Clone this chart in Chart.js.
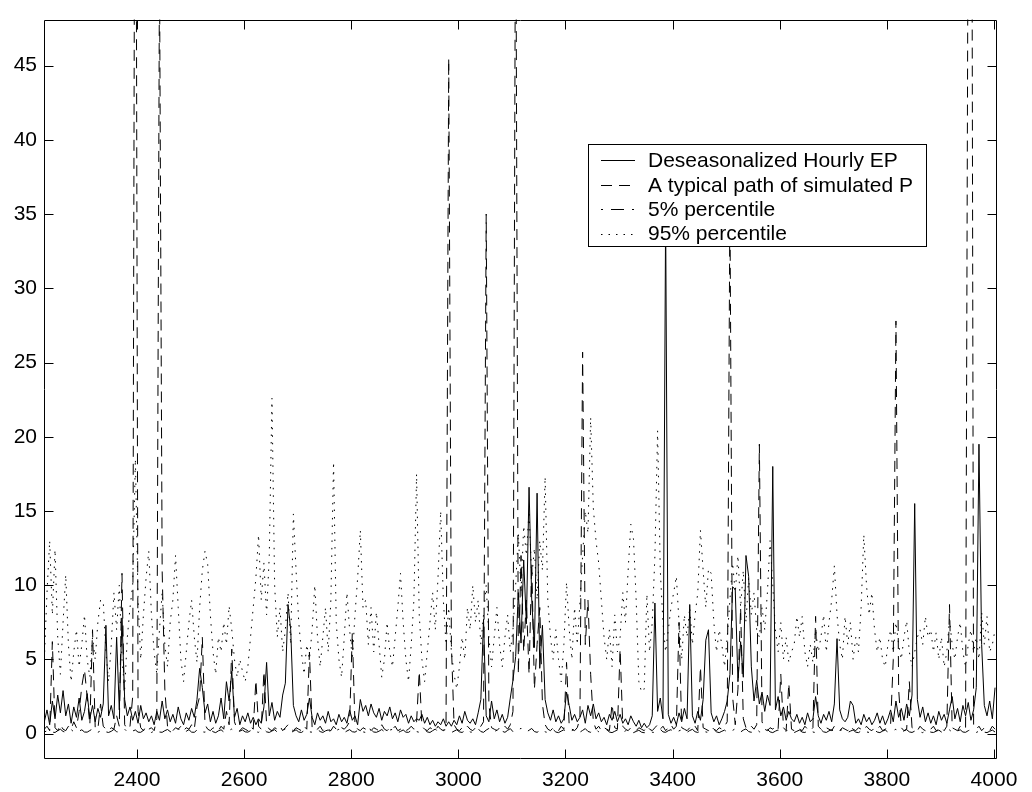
<!DOCTYPE html>
<html>
<head>
<meta charset="utf-8">
<script src="https://cdn.jsdelivr.net/npm/chart.js@4/dist/chart.umd.min.js"></script>
<style>
html,body{margin:0;padding:0;background:#fff;}
#c{display:block;}
</style>
</head>
<body>
<canvas id="c" width="1032" height="792"></canvas>
<script>
// ---------------- data (hourly index, sampled every 5 hours) ----------------
const hourStart = 2227;
const hourStep = 5;

const seriesLabels = [
  'Deseasonalized Hourly EP',
  'A typical path of simulated P',
  '5% percentile',
  '95% percentile'
];

const epValues = [
  0.8,1.6,0.6,2.2,1.0,2.6,1.4,2.9,1.2,2.0,0.7,1.8,1.1,2.4,0.9,1.5,2.7,1.0,1.9,0.8,
  1.7,1.1,2.0,7.3,1.2,1.9,1.0,6.5,1.6,7.8,2.3,1.2,1.8,0.9,1.5,0.7,1.9,1.0,1.4,0.8,
  1.2,0.6,1.5,0.9,2.2,1.0,1.6,0.8,1.3,0.7,1.8,1.0,0.6,1.4,0.9,1.7,1.1,2.3,4.4,3.1,
  1.4,2.0,0.8,1.5,0.7,1.2,2.4,1.0,3.5,2.2,4.2,1.1,1.7,0.6,1.2,0.8,1.4,0.7,1.1,0.6,
  1.0,0.7,1.8,4.8,1.2,2.1,0.9,1.5,1.1,2.6,3.4,8.7,7.0,1.9,1.2,0.8,1.6,0.9,1.3,2.4,
  1.1,0.6,1.4,0.9,1.2,0.7,1.5,0.8,1.0,0.6,1.3,0.8,1.1,0.7,1.6,0.9,1.2,0.6,2.3,1.5,
  1.9,1.2,2.0,1.4,1.1,1.7,0.9,1.5,1.2,1.8,1.0,1.4,0.8,1.6,1.1,1.3,0.7,1.2,0.8,1.0,
  0.9,1.3,0.7,1.1,0.6,0.9,0.5,0.8,0.6,1.0,0.5,0.8,0.5,0.9,0.6,1.2,0.7,1.5,0.9,0.7,
  1.0,0.6,1.4,2.3,7.7,1.2,0.8,2.2,1.0,1.6,0.8,1.3,0.7,1.1,2.4,3.6,5.2,9.5,6.1,11.7,
  7.4,16.6,9.0,5.8,16.2,4.4,7.3,2.3,1.4,0.9,1.6,0.8,1.2,0.7,1.0,2.8,1.9,0.9,1.3,0.8,
  1.1,1.6,0.7,1.9,1.2,2.0,1.0,1.4,0.8,1.1,0.6,1.3,0.9,1.5,0.8,1.3,0.7,1.0,0.6,1.2,
  0.8,0.5,0.9,0.4,0.7,0.4,0.6,1.2,8.8,1.5,2.4,1.0,35,1.3,0.7,1.1,0.6,1.4,0.8,1.7,
  1.0,8.7,1.2,0.7,1.5,0.9,2.3,6.3,7.0,1.4,0.8,1.2,0.6,1.0,1.5,2.2,4.0,9.9,9.7,3.5,
  6.2,3.8,12.0,10.6,4.5,2.2,3.6,2.0,2.8,1.5,2.6,1.9,18.0,1.6,2.5,1.2,1.8,0.9,1.5,1.0,
  0.8,1.3,0.7,1.1,0.6,1.4,0.8,1.0,2.5,1.2,0.7,1.3,0.9,1.5,0.8,2.0,6.4,1.6,1.0,0.8,
  1.1,2.2,1.9,0.7,1.0,0.6,1.3,0.8,1.1,0.6,0.9,1.4,0.7,1.2,0.6,1.0,1.6,0.8,2.2,1.1,
  1.7,0.9,2.0,1.2,2.6,15.5,2.3,1.1,1.8,0.8,1.4,0.7,1.2,0.6,1.5,0.9,1.3,0.7,1.6,2.5,
  1.0,1.7,0.8,1.9,1.2,2.1,0.9,1.6,3.1,19.5,6.0,1.9,1.2,2.2,1.0,3.1
];

const simValues = [
  0.3,0.5,0.2,6.2,0.4,0.2,0.6,0.3,0.2,0.5,0.3,0.8,0.4,1.5,3.2,4.3,2.5,0.6,7.0,0.4,
  0.3,2.0,0.5,0.3,0.2,0.4,0.3,1.2,0.5,10.8,0.6,0.3,0.5,2.5,80,1.5,0.4,0.2,0.5,0.3,
  0.4,0.2,1.0,52,11.0,3.0,0.5,0.3,0.2,0.4,0.3,0.5,0.2,0.4,0.3,0.6,0.3,1.8,2.5,6.5,
  0.6,0.3,0.2,0.4,0.3,0.2,0.5,0.3,1.5,0.6,5.7,0.8,0.3,0.2,0.4,0.3,0.2,0.5,0.3,3.6,
  0.5,0.3,4.2,0.6,0.3,0.2,0.4,0.3,0.5,0.2,0.4,0.6,0.3,0.2,0.4,0.3,0.2,0.5,0.3,5.5,
  0.4,0.2,0.3,0.5,0.2,0.4,0.3,0.2,0.5,0.3,0.2,0.4,0.3,0.5,0.8,6.8,0.6,0.3,0.2,0.4,
  0.3,0.5,0.2,0.4,0.3,0.2,0.6,0.3,0.2,0.4,0.3,0.5,0.2,0.3,0.4,0.2,0.3,0.5,0.3,0.8,
  4.2,0.5,0.3,0.2,0.4,0.3,0.2,0.5,0.3,0.2,0.5,45.5,6.0,0.6,0.3,0.2,0.4,0.3,0.5,0.3,
  0.2,0.4,0.3,0.5,0.8,35.0,2.0,0.4,0.3,0.2,0.4,0.3,0.5,0.3,0.6,1.5,60,4.0,12.0,5.5,
  9.0,4.0,11.5,3.0,6.0,8.5,2.0,0.6,0.3,0.2,0.4,0.3,0.2,0.5,0.3,4.8,0.5,0.3,0.2,0.4,
  1.0,25.7,6.0,9.0,4.0,0.8,0.3,0.5,0.2,0.4,0.3,0.2,2.0,0.4,0.3,5.7,0.5,0.3,0.2,0.4,
  0.3,0.2,0.4,0.3,0.2,0.5,0.3,0.2,0.4,0.6,0.3,0.5,0.2,0.4,0.6,0.3,0.5,7.5,0.4,0.3,
  0.2,0.4,0.3,0.5,0.2,4.5,0.4,0.3,0.2,0.5,0.3,0.2,0.4,0.3,0.5,0.8,36,2.5,0.6,3.0,
  8.5,1.0,0.4,0.3,0.5,0.3,0.6,19.5,0.8,0.3,0.2,0.4,0.3,0.5,0.3,4.0,0.4,0.2,3.4,0.3,
  0.2,0.4,0.3,0.2,0.5,0.3,0.2,0.4,7.9,0.5,0.3,0.2,0.4,0.3,0.2,0.5,0.3,0.2,0.4,0.3,
  0.2,0.5,0.3,0.2,0.4,0.3,0.2,0.5,0.3,0.2,0.4,0.3,0.5,0.2,0.3,0.4,0.6,5.0,27.8,3.0,
  0.4,0.2,0.3,3.5,0.4,0.3,0.2,0.5,0.3,0.2,0.4,0.3,0.5,0.2,0.3,0.4,0.2,0.5,8.7,0.4,
  0.3,0.2,0.5,0.3,0.4,60,90,0.6,0.3,0.5,0.2,0.4,0.3,0.2,0.5,0.3
];

const p5Values = [
  0.12,0.18,0.25,0.10,0.08,0.20,0.30,0.15,0.09,0.22,0.28,0.12,0.07,0.17,0.26,0.11,0.10,0.21,0.32,0.14,
  0.09,0.19,0.27,0.12,0.08,0.16,0.29,0.13,0.10,0.23,0.30,0.12,0.07,0.18,0.25,0.10,0.09,0.22,0.31,0.13,
  0.08,0.17,0.26,0.11,0.09,0.20,0.28,0.14,0.08,0.21,0.33,0.12,0.07,0.16,0.27,0.10,0.09,0.24,0.30,0.12,
  0.10,0.18,0.28,0.13,0.07,0.19,0.26,0.11,0.09,0.22,0.31,0.14,0.08,0.17,0.25,0.12,0.10,0.20,0.29,0.13,
  0.09,0.21,0.30,0.12,0.08,0.18,0.27,0.10,0.09,0.23,0.32,0.13,0.07,0.16,0.26,0.11,0.08,0.20,0.28,0.12,
  0.10,0.17,0.29,0.14,0.08,0.19,0.25,0.12,0.09,0.21,0.30,0.11,0.07,0.18,0.27,0.13,0.10,0.22,0.31,0.12,
  0.08,0.20,0.26,0.11,0.09,0.17,0.28,0.13,0.08,0.24,0.29,0.12,0.07,0.15,0.25,0.10,0.09,0.21,0.30,0.14,
  0.09,0.18,0.27,0.12,0.08,0.20,0.31,0.11,0.10,0.22,0.28,0.13,0.07,0.17,0.26,0.12,0.08,0.19,0.29,0.11,
  0.10,0.21,0.33,0.14,0.09,0.24,0.35,0.15,0.10,0.26,0.38,0.16,0.09,0.22,0.34,0.13,0.10,0.25,0.36,0.15,
  0.11,0.23,0.35,0.14,0.09,0.20,0.30,0.12,0.08,0.19,0.28,0.11,0.07,0.17,0.26,0.12,0.09,0.21,0.29,0.13,
  0.10,0.22,0.34,0.15,0.09,0.20,0.31,0.12,0.08,0.18,0.27,0.11,0.07,0.16,0.25,0.10,0.08,0.19,0.28,0.12,
  0.07,0.15,0.23,0.10,0.06,0.14,0.22,0.09,0.08,0.18,0.30,0.12,0.09,0.20,0.27,0.11,0.08,0.19,0.26,0.12,
  0.09,0.21,0.29,0.13,0.08,0.18,0.27,0.11,0.09,0.20,0.28,0.12,0.07,0.16,0.24,0.10,0.09,0.22,0.33,0.15,
  0.11,0.24,0.32,0.14,0.09,0.21,0.30,0.13,0.08,0.19,0.28,0.12,0.07,0.17,0.25,0.11,0.08,0.18,0.26,0.10,
  0.07,0.16,0.24,0.10,0.08,0.17,0.25,0.11,0.07,0.18,0.26,0.12,0.08,0.19,0.27,0.11,0.09,0.20,0.28,0.12,
  0.08,0.17,0.25,0.10,0.07,0.18,0.26,0.12,0.08,0.16,0.24,0.11,0.07,0.17,0.25,0.10,0.09,0.21,0.30,0.13,
  0.09,0.19,0.27,0.12,0.08,0.17,0.25,0.11,0.07,0.18,0.26,0.10,0.08,0.16,0.24,0.11,0.07,0.17,0.25,0.10,
  0.08,0.18,0.26,0.11,0.09,0.20,0.28,0.12,0.08,0.17,0.25,0.10,0.07,0.16,0.24,0.11
];

const p95Values = [
  5.0,9.5,13.0,8.0,12.4,6.5,4.0,7.5,10.7,6.0,3.5,5.5,7.0,4.5,6.0,8.0,5.0,3.8,6.5,5.0,
  7.5,9.0,8.9,5.5,3.5,6.0,9.5,7.0,10.0,5.0,3.0,6.5,8.5,10.0,18.5,9.0,5.0,8.0,10.5,12.3,
  8.0,5.5,4.0,7.0,9.5,6.0,4.5,7.5,9.0,12.0,8.5,5.0,3.5,5.5,7.5,9.0,6.5,4.8,8.5,11.0,
  12.3,11.4,8.0,5.5,4.0,6.5,5.5,7.5,6.0,8.6,7.0,5.0,3.8,5.0,4.2,3.5,4.5,6.5,8.5,10.5,
  13.4,9.0,11.5,8.0,12.0,22.6,10.0,6.5,8.5,5.5,7.0,9.5,6.0,14.8,11.0,7.5,5.5,4.0,6.0,5.0,
  7.0,10.0,6.5,4.5,6.5,8.5,5.5,9.0,18.3,7.5,5.0,3.8,6.5,9.5,7.0,5.0,8.0,10.5,13.7,8.5,
  9.0,6.0,8.5,5.5,8.2,6.0,3.8,5.0,7.5,5.5,4.5,6.5,8.5,10.8,7.5,5.0,3.5,6.0,9.0,17.5,
  8.0,5.0,3.5,5.5,7.5,9.5,7.0,10.5,15.0,9.0,6.0,8.5,5.5,4.0,3.0,4.5,6.5,5.0,8.5,7.0,
  10.0,7.5,9.0,6.0,8.0,10.0,6.5,4.5,6.5,8.5,6.0,4.5,6.5,8.0,5.5,7.0,10.0,13.5,9.5,14.0,
  12.0,15.0,10.5,12.5,9.0,13.0,11.0,17.3,9.0,6.5,5.0,7.0,5.0,3.5,6.0,10.2,7.0,5.0,8.5,6.0,
  8.8,12.0,15.0,13.5,21.3,15.2,13.0,11.5,9.0,6.5,5.0,7.0,4.5,8.0,5.5,6.5,9.5,7.5,11.0,14.1,
  13.1,9.0,3.5,2.8,3.0,9.4,5.5,7.5,12.0,20.4,11.0,7.5,5.5,7.0,8.5,9.5,10.6,7.5,5.0,8.0,
  6.5,8.5,6.0,8.0,9.5,13.7,11.0,8.5,11.1,10.8,7.5,5.5,7.0,6.0,4.5,6.5,9.0,11.5,9.5,12.0,
  8.5,11.0,7.5,10.5,8.0,9.5,7.0,6.5,8.5,7.0,9.5,13.0,10.0,7.0,5.5,7.5,5.0,6.5,4.8,5.5,
  6.0,7.9,6.5,7.9,5.5,4.5,6.0,4.8,7.0,5.5,6.5,8.0,5.5,7.5,9.0,11.3,8.0,6.0,5.0,7.9,
  6.0,7.5,5.0,6.5,5.5,8.5,13.4,10.0,8.0,9.5,7.0,5.5,6.5,5.0,4.5,6.0,7.0,5.5,7.5,6.0,
  5.0,6.5,7.6,5.5,4.5,5.5,6.5,7.0,6.0,7.9,6.5,7.0,5.5,6.8,5.0,6.5,4.5,5.5,7.7,6.0,
  5.0,6.5,7.5,5.5,4.5,6.0,7.0,5.5,6.5,5.0,8.2,6.0,7.9,5.5,6.0,7.0
];

const xTickValues = [2400, 2600, 2800, 3000, 3200, 3400, 3600, 3800, 4000];
const yTickValues = [0, 5, 10, 15, 20, 25, 30, 35, 40, 45];
const xRange = [2226.4, 4003.8];
const yRange = [-1.64, 48.1];

// ---------------- build ----------------
const toPoints = vals => vals.map((v, i) => ({ x: hourStart + i * hourStep, y: v }));

const FONT = "'Liberation Sans', Arial, Helvetica, sans-serif";
const styles = [
  { dash: [], width: 1 },
  { dash: [11, 7], width: 1 },
  { dash: [2, 8, 13, 8], width: 1 },
  { dash: [1.5, 6], width: 1 }
];
const seriesData = [epValues, simValues, p5Values, p95Values];

const datasets = seriesData.map((vals, k) => ({
  label: seriesLabels[k],
  data: toPoints(vals),
  borderColor: '#000',
  borderWidth: styles[k].width,
  borderDash: styles[k].dash,
  pointRadius: 0,
  tension: 0,
  fill: false,
  clip: 0,
  order: 3 - k
}));

const framePlugin = {
  id: 'frame',
  afterDatasetsDraw(chart) {
    const { ctx, chartArea: a, scales } = chart;
    const x = scales.x, y = scales.y;
    ctx.save();
    ctx.strokeStyle = '#000';
    ctx.lineWidth = 1;
    ctx.setLineDash([]);
    const L = Math.round(a.left) + 0.5, R = Math.round(a.right) + 0.5;
    const T = Math.round(a.top) + 0.5, B = Math.round(a.bottom) + 0.5;
    ctx.beginPath();
    ctx.rect(L, T, R - L, B - T);
    const tl = 9;
    xTickValues.forEach(v => {
      const px = Math.round(x.getPixelForValue(v)) + 0.5;
      ctx.moveTo(px, B); ctx.lineTo(px, B - tl);
      ctx.moveTo(px, T); ctx.lineTo(px, T + tl);
    });
    yTickValues.forEach(v => {
      const py = Math.round(y.getPixelForValue(v)) + 0.5;
      ctx.moveTo(L, py); ctx.lineTo(L + tl, py);
      ctx.moveTo(R, py); ctx.lineTo(R - tl, py);
    });
    ctx.stroke();

    // legend box
    const box = { left: 588.5, top: 144.5, width: 338, height: 102 };
    const rows = [160, 185, 209, 233.5];
    ctx.fillStyle = '#fff';
    ctx.fillRect(box.left, box.top, box.width, box.height);
    ctx.strokeRect(box.left, box.top, box.width, box.height);
    ctx.font = '21px ' + FONT;
    ctx.textBaseline = 'middle';
    ctx.textAlign = 'left';
    chart.data.datasets.forEach((ds, i) => {
      const ry = Math.round(rows[i]) + 0.5;
      ctx.save();
      ctx.lineWidth = 1;
      ctx.strokeStyle = '#000';
      ctx.setLineDash(ds.borderDash || []);
      ctx.beginPath();
      ctx.moveTo(601, ry);
      ctx.lineTo(635, ry);
      ctx.stroke();
      ctx.restore();
      ctx.fillStyle = '#000';
      ctx.fillText(ds.label, 648, rows[i] + 1);
    });
    ctx.restore();
  }
};

new Chart(document.getElementById('c'), {
  type: 'line',
  data: { datasets },
  options: {
    responsive: false,
    animation: false,
    devicePixelRatio: 1,
    layout: { padding: { left: 0, right: 36, top: 7, bottom: 0 } },
    plugins: {
      legend: { display: false },
      tooltip: { enabled: false },
      title: { display: false }
    },
    scales: {
      x: {
        type: 'linear',
        min: xRange[0],
        max: xRange[1],
        grid: { display: false, drawTicks: false },
        border: { display: false },
        afterBuildTicks: s => { s.ticks = xTickValues.map(v => ({ value: v })); },
        afterFit: s => { s.height = 34; },
        ticks: {
          color: '#000',
          font: { family: FONT, size: 21 },
          padding: 10,
          maxRotation: 0,
          autoSkip: false,
          callback: v => String(v)
        }
      },
      y: {
        type: 'linear',
        min: yRange[0],
        max: yRange[1],
        grid: { display: false, drawTicks: false },
        border: { display: false },
        afterBuildTicks: s => { s.ticks = yTickValues.map(v => ({ value: v })); },
        afterFit: s => { s.width = 44; },
        ticks: {
          color: '#000',
          font: { family: FONT, size: 21 },
          padding: 7,
          autoSkip: false,
          callback: v => String(v)
        }
      }
    }
  },
  plugins: [framePlugin]
});
</script>
</body>
</html>
